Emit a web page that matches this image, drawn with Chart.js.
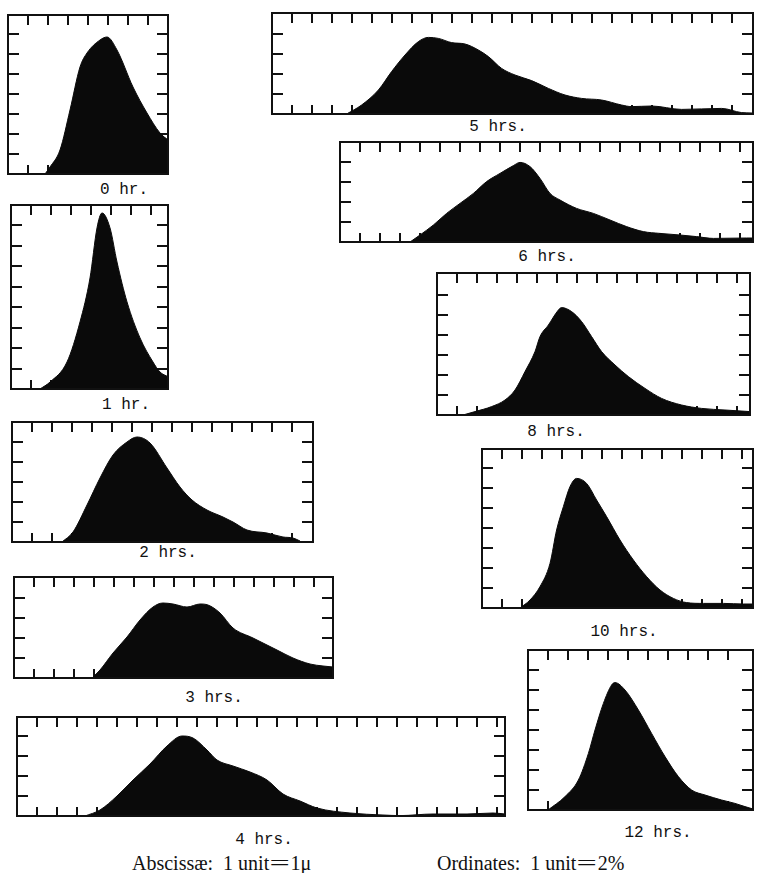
<!DOCTYPE html>
<html>
<head>
<meta charset="utf-8">
<script src="https://cdn.jsdelivr.net/npm/chart.js@4.4.1/dist/chart.umd.min.js"></script>
<style>
    body { margin: 0; background: #fff; }
    #page { position: relative; width: 760px; height: 873px; overflow: hidden; background: #fff; }
    canvas { position: absolute; }
    .lbl { position: absolute; font-family: "Liberation Mono", "DejaVu Sans Mono", monospace; font-size: 16px; color: #111; transform: translate(-50%, -50%); white-space: nowrap; }
    .cap { position: absolute; font-family: "Liberation Serif", "DejaVu Serif", serif; font-size: 20px; color: #111; transform: translateY(-50%); white-space: pre; }
    .eq { display: inline-block; transform: scaleX(1.8); margin: 0 5px; }
</style>
</head>
<body>
<div id="page"></div>
<script>
// frequency curves, x in abscissa units (1 micron), y in ordinate units (2 %)
const hr0X = [1.85, 2.1, 2.6, 3.1, 3.6, 3.95, 4.6, 4.95, 5.45, 6.25, 6.95, 7.6, 8.0];
const hr0Y = [0, 0.35, 1.2, 3.2, 5.35, 6.05, 6.7, 6.85, 6.2, 4.35, 3.05, 2.05, 1.7];

const hr1X = [1.45, 1.95, 2.8, 3.45, 3.95, 4.3, 4.55, 4.95, 5.3, 5.8, 6.45, 7.1, 7.45, 7.85];
const hr1Y = [0, 0.34, 1.32, 3.28, 5.43, 7.88, 8.61, 7.88, 6.21, 4.26, 2.5, 1.32, 0.83, 0.6];

const hr2X = [2.5, 3.05, 3.75, 4.4, 5.05, 5.75, 6.25, 6.9, 7.75, 8.4, 9.0, 9.75, 10.55, 11.05, 11.75, 12.75, 13.55, 14.05, 14.4];
const hr2Y = [0, 0.5, 1.85, 3.2, 4.35, 5.0, 5.25, 4.95, 3.7, 2.75, 2.1, 1.6, 1.25, 1.0, 0.6, 0.45, 0.25, 0.2, 0.05];

const hr3X = [3.9, 4.3, 4.95, 5.65, 6.3, 6.95, 7.45, 7.95, 8.65, 9.3, 9.7, 10.3, 10.95, 11.95, 13.15, 13.95, 14.8, 15.45, 15.95];
const hr3Y = [0, 0.4, 1.25, 2.05, 2.9, 3.55, 3.75, 3.7, 3.55, 3.7, 3.65, 3.25, 2.5, 2.0, 1.4, 1.0, 0.7, 0.6, 0.55];

const hr4X = [3.4, 4.15, 5.0, 5.8, 6.65, 7.5, 8.25, 8.8, 9.5, 10.0, 10.8, 11.65, 12.5, 13.3, 14.15, 15.0, 16.65, 18.3, 19.15, 20.8, 22.5, 23.8, 24.4];
const hr4Y = [0, 0.3, 1.0, 1.8, 2.6, 3.5, 4.0, 3.9, 3.3, 2.8, 2.5, 2.2, 1.8, 1.1, 0.75, 0.4, 0.15, 0.05, 0.02, 0.1, 0.1, 0.15, 0.1];

const hr5X = [3.73, 4.48, 5.32, 5.98, 6.65, 7.32, 7.82, 8.32, 8.98, 9.65, 10.32, 10.82, 11.48, 12.15, 12.98, 13.82, 14.65, 15.48, 16.48, 17.48, 17.98, 18.98, 20.48, 22.48, 23.48, 24.0];
const hr5Y = [0, 0.45, 1.2, 2.12, 2.95, 3.62, 3.83, 3.78, 3.57, 3.5, 3.2, 2.87, 2.28, 1.95, 1.67, 1.28, 0.95, 0.78, 0.7, 0.45, 0.37, 0.4, 0.23, 0.28, 0.07, 0.05];

const hr6X = [3.5, 4.0, 4.67, 5.33, 6.0, 6.67, 7.33, 8.0, 8.67, 9.0, 9.5, 10.0, 10.5, 11.0, 11.83, 12.67, 13.5, 14.33, 15.17, 16.0, 17.0, 17.83, 18.67, 20.33, 20.65];
const hr6Y = [0, 0.35, 0.85, 1.43, 1.93, 2.43, 3.02, 3.43, 3.82, 3.98, 3.77, 3.18, 2.43, 2.1, 1.68, 1.43, 1.1, 0.77, 0.52, 0.43, 0.35, 0.27, 0.18, 0.2, 0.2];

const hr8X = [1.3, 1.9, 2.73, 3.4, 3.9, 4.4, 4.9, 5.15, 5.57, 6.07, 6.23, 6.73, 7.23, 7.73, 8.23, 8.9, 9.57, 10.4, 11.23, 12.23, 13.23, 14.4, 15.65];
const hr8Y = [0, 0.17, 0.42, 0.75, 1.25, 2.17, 3.17, 3.92, 4.5, 5.25, 5.37, 5.17, 4.67, 3.92, 3.17, 2.5, 1.92, 1.33, 0.83, 0.5, 0.33, 0.25, 0.17];

const hr10X = [1.9, 2.4, 2.9, 3.4, 3.73, 4.07, 4.4, 4.73, 5.23, 5.73, 6.23, 6.9, 7.57, 8.23, 8.9, 9.57, 10.23, 11.07, 12.07, 13.07, 13.55];
const hr10Y = [0, 0.4, 1.07, 2.23, 3.9, 5.07, 6.07, 6.48, 6.23, 5.4, 4.57, 3.4, 2.4, 1.57, 0.9, 0.48, 0.27, 0.23, 0.23, 0.2, 0.2];

const hr12X = [1.0, 1.85, 2.52, 3.02, 3.35, 3.77, 4.18, 4.35, 4.85, 5.52, 6.18, 6.85, 7.52, 8.18, 8.85, 9.68, 10.35, 10.85, 11.25];
const hr12Y = [0, 0.67, 1.5, 2.83, 4.0, 5.33, 6.25, 6.37, 6.0, 5.0, 3.83, 2.67, 1.67, 1.0, 0.75, 0.5, 0.33, 0.17, 0.05];

const panelLabels = ["0 hr.", "1 hr.", "2 hrs.", "3 hrs.", "4 hrs.", "5 hrs.", "6 hrs.", "8 hrs.", "10 hrs.", "12 hrs."];
const panelXs = [hr0X, hr1X, hr2X, hr3X, hr4X, hr5X, hr6X, hr8X, hr10X, hr12X];
const panelYs = [hr0Y, hr1Y, hr2Y, hr3Y, hr4Y, hr5Y, hr6Y, hr8Y, hr10Y, hr12Y];
// axis extent of each box, in units
const panelXMax = [8.0, 7.85, 15.05, 15.95, 24.4, 24.05, 20.65, 15.65, 13.55, 11.25];
const panelYMax = [7.95, 9, 6, 5.05, 4.95, 5.05, 5, 7.1, 7.95, 8];

// caption parts: before the equals sign, after it
const captionLeft = ["Abscissæ:  1 unit", "1\u03bc"];
const captionRight = ["Ordinates:  1 unit", "2%"];

// layout: box left, top, width, height, label centre x, y
const layout = [
    [8, 15, 160, 159, 124, 190],
    [11, 205, 157, 184, 126, 405],
    [12, 422, 301, 120, 168, 553],
    [14, 577, 319, 101, 214, 698],
    [17, 717, 488, 99, 264, 840],
    [272, 13, 481, 101, 498, 127],
    [340, 142, 413, 100, 547, 257],
    [437, 273, 313, 142, 556, 432],
    [482, 449, 271, 159, 624, 632],
    [528, 650, 225, 160, 658, 833]
];

// box with inward ticks on all four sides
const framePlugin = {
    id: 'frame',
    beforeDatasetsDraw(chart) {
        const {ctx, chartArea: a, scales} = chart;
        ctx.save();
        ctx.strokeStyle = '#111';
        ctx.lineWidth = 2;
        ctx.beginPath();
        for (let v = 1; v < scales.x.max - 0.3; v++) {
            const px = Math.round(scales.x.getPixelForValue(v));
            ctx.moveTo(px, a.top); ctx.lineTo(px, a.top + 10);
            ctx.moveTo(px, a.bottom); ctx.lineTo(px, a.bottom - 9);
        }
        for (let v = 1; v < scales.y.max - 0.3; v++) {
            const py = Math.round(scales.y.getPixelForValue(v));
            ctx.moveTo(a.left, py); ctx.lineTo(a.left + 11, py);
            ctx.moveTo(a.right, py); ctx.lineTo(a.right - 11, py);
        }
        ctx.stroke();
        ctx.restore();
    },
    afterDatasetsDraw(chart) {
        const {ctx, chartArea: a} = chart;
        ctx.save();
        ctx.strokeStyle = '#111';
        ctx.lineWidth = 2;
        ctx.strokeRect(a.left, a.top, a.right - a.left, a.bottom - a.top);
        ctx.restore();
    }
};

const page = document.getElementById('page');

panelLabels.forEach((name, i) => {
    const [left, top, w, h, lx, ly] = layout[i];
    const canvas = document.createElement('canvas');
    canvas.width = w + 2;
    canvas.height = h + 2;
    canvas.style.left = (left - 1) + 'px';
    canvas.style.top = (top - 1) + 'px';
    page.appendChild(canvas);

    new Chart(canvas.getContext('2d'), {
        type: 'line',
        data: {
            datasets: [{
                data: panelXs[i].map((x, k) => ({x: x, y: panelYs[i][k]})),
                fill: 'origin',
                backgroundColor: '#0a0a0a',
                borderColor: '#0a0a0a',
                borderWidth: 1,
                pointRadius: 0,
                cubicInterpolationMode: 'monotone'
            }]
        },
        options: {
            responsive: false,
            animation: false,
            events: [],
            layout: {padding: 1},
            plugins: {legend: {display: false}, tooltip: {enabled: false}},
            scales: {
                x: {type: 'linear', min: 0, max: panelXMax[i], display: false},
                y: {type: 'linear', min: 0, max: panelYMax[i], display: false}
            }
        },
        plugins: [framePlugin]
    });

    const lbl = document.createElement('div');
    lbl.className = 'lbl';
    lbl.textContent = name;
    lbl.style.left = lx + 'px';
    lbl.style.top = ly + 'px';
    page.appendChild(lbl);
});

[[captionLeft, 132], [captionRight, 437]].forEach(([parts, x]) => {
    const d = document.createElement('div');
    d.className = 'cap';
    d.appendChild(document.createTextNode(parts[0]));
    const eq = document.createElement('span');
    eq.className = 'eq';
    eq.textContent = '=';
    d.appendChild(eq);
    d.appendChild(document.createTextNode(parts[1]));
    d.style.left = x + 'px';
    d.style.top = '863px';
    page.appendChild(d);
});
</script>
</body>
</html>
